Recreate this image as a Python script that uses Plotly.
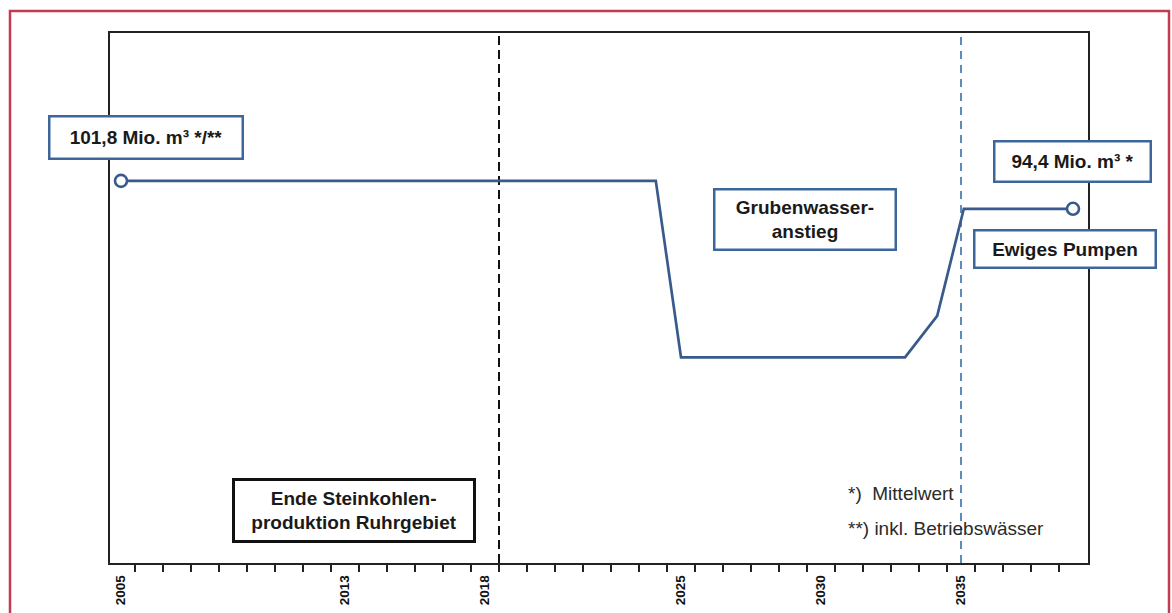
import plotly.graph_objects as go

# ---- data ----
years = [2005, 2024.1, 2025, 2033, 2034.15, 2035.1, 2039]
volumes = [101.8, 101.8, 55.0, 55.0, 66.0, 94.4, 94.4]   # Mio. m³ per year

label_years = [2005, 2013, 2018, 2025, 2030, 2035]
label_texts = ["2005", "2013", "2018", "2025", "2030", "2035"]
minor_ticks = [y + 0.5 for y in range(2005, 2039)]

end_of_mining = 2018.5      # black dashed marker
pumping_start = 2035        # blue dashed marker

start_label = "101,8 Mio. m³ */**"
end_label = "94,4 Mio. m³ *"
phase_labels = ["Grubenwasser-<br>anstieg", "Ewiges Pumpen",
                "Ende Steinkohlen-<br>produktion Ruhrgebiet"]
footnotes = ["*)  Mittelwert", "**) inkl. Betriebswässer"]

# ---- layout geometry (pixels) ----
W, H = 1172, 613
L, R, T, B = 110, 84, 33, 50
PW, PH = W - L - R, H - T - B


def px(x):
    return (x - L) / PW


def py(y):
    return (H - B - y) / PH


BLUE = "#385a8c"
BOXBLUE = "#3d679b"
DASHBLUE = "#4f7fb5"
FONT = "Liberation Sans, Arial, sans-serif"

fig = go.Figure()

fig.add_trace(go.Scatter(
    x=years, y=volumes, mode="lines",
    line=dict(color=BLUE, width=2.7),
    hoverinfo="skip", showlegend=False))

fig.add_trace(go.Scatter(
    x=[years[0], years[-1]], y=[volumes[0], volumes[-1]], mode="markers",
    marker=dict(symbol="circle", size=12, color="white",
                line=dict(color=BLUE, width=2.6)),
    hoverinfo="skip", showlegend=False))

# dashed vertical markers
fig.add_shape(type="line", xref="x", yref="paper",
              x0=end_of_mining, x1=end_of_mining, y0=0, y1=1,
              line=dict(color="#111", width=2, dash="9px,5px"), layer="below")
fig.add_shape(type="line", xref="x", yref="paper",
              x0=pumping_start, x1=pumping_start, y0=0, y1=1,
              line=dict(color=DASHBLUE, width=1.8, dash="8px,6px"), layer="below")

# red frame of the scan
fig.add_shape(type="rect", xref="paper", yref="paper",
              x0=px(10), x1=px(1169), y0=py(618), y1=py(11),
              line=dict(color="#c43a50", width=2.5), layer="below")


def box(text, x0, x1, y0, y1, color, bw, size=19, bold=True):
    fig.add_annotation(
        xref="paper", yref="paper",
        x=px((x0 + x1) / 2), y=py((y0 + y1) / 2),
        xanchor="center", yanchor="middle",
        text=text, showarrow=False, align="center",
        width=(x1 - x0) - 2 * bw, height=(y1 - y0) - 2 * bw,
        bgcolor="white", bordercolor=color, borderwidth=bw, borderpad=0,
        font=dict(family=FONT, size=size, color="#1a1a1a",
                  weight="bold" if bold else "normal"))


box(start_label, 48, 244, 115, 160, BOXBLUE, 2.5)
box(end_label, 993, 1152, 140, 183, BOXBLUE, 2.5)
box(phase_labels[1], 973, 1157, 229, 269, BOXBLUE, 2.5)
box(phase_labels[0], 713, 897, 188, 251, BOXBLUE, 2.5)
box(phase_labels[2], 232, 476, 478, 543, "#111", 3)

for txt, xl, yc in zip(footnotes, [846, 846], [493, 528]):
    fig.add_annotation(
        xref="paper", yref="paper", x=px(xl), y=py(yc),
        xanchor="left", yanchor="middle", text=txt, showarrow=False,
        font=dict(family=FONT, size=19, color="#2a2a2a"))

fig.update_xaxes(
    range=[2005 - 11 / 28, 2005 + 967 / 28],
    tickmode="array", tickvals=label_years, ticktext=label_texts,
    ticks="outside", ticklen=5, tickcolor="rgba(0,0,0,0)",
    tickangle=-90, automargin=False,
    tickfont=dict(family=FONT, size=13.5, color="#111", weight="bold"),
    minor=dict(tickmode="array", tickvals=minor_ticks, ticks="outside",
               ticklen=7, tickwidth=2, tickcolor="#222"),
    showline=True, mirror=True, linecolor="#222", linewidth=1.6,
    showgrid=False, zeroline=False)

fig.update_yaxes(
    range=[0.5, 141], showticklabels=False, ticks="", automargin=False,
    showline=True, mirror=True, linecolor="#222", linewidth=1.6,
    showgrid=False, zeroline=False)

fig.update_layout(
    width=W, height=H, autosize=False,
    margin=dict(l=L, r=R, t=T, b=B),
    paper_bgcolor="white", plot_bgcolor="white",
    showlegend=False)

fig.write_html(
    "out.html",
    config={"responsive": False, "displayModeBar": False},
    post_script=(
        "document.body.style.margin='0';"
        "document.body.style.overflow='hidden';"))
